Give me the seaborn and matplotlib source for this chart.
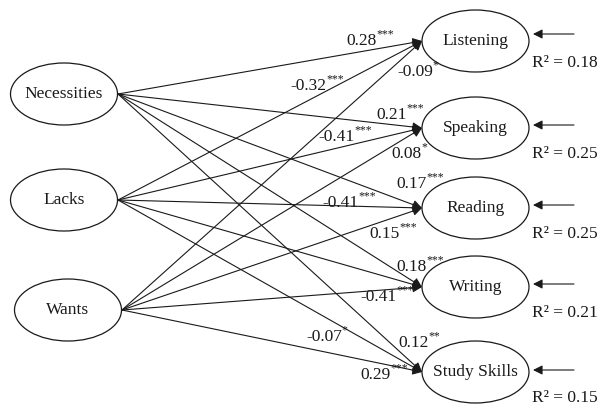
#!/usr/bin/env python3

import sys

import matplotlib
matplotlib.use("Agg")
import matplotlib.pyplot as plt
from matplotlib.patches import Ellipse
import seaborn as sns


FIGSIZE = (6.01, 4.05)
INK = "#1a1a1a"

# data
needs = ["Necessities", "Lacks", "Wants"]
skills = ["Listening", "Speaking", "Reading", "Writing", "Study Skills"]
r_squared = [0.18, 0.25, 0.25, 0.21, 0.15]

# path coefficients: (source, target, value, stars)
path_src = ["Necessities", "Lacks", "Wants",
            "Necessities", "Lacks", "Wants",
            "Necessities", "Lacks", "Wants",
            "Necessities", "Lacks",
            "Necessities", "Lacks", "Wants"]
path_dst = ["Listening", "Listening", "Listening",
            "Speaking", "Speaking", "Speaking",
            "Reading", "Reading", "Reading",
            "Writing", "Writing",
            "Study Skills", "Study Skills", "Study Skills"]
path_coef = ["0.28", "-0.32", "-0.09",
             "0.21", "-0.41", "0.08",
             "0.17", "-0.41", "0.15",
             "0.18", "-0.41",
             "0.12", "-0.07", "0.29"]
path_sig = ["***", "***", "*",
            "***", "***", "*",
            "***", "***", "***",
            "***", "***",
            "**", "*", "***"]

# layout (pixel coordinates of the figure)
LEFT_CENTER = {"Necessities": (64, 94), "Lacks": (64, 200), "Wants": (68, 310)}
RIGHT_CENTER = {"Listening": (475.5, 41), "Speaking": (475.5, 128),
                "Reading": (475.5, 208), "Writing": (475.5, 287),
                "Study Skills": (475.5, 372)}
ELL_W, ELL_H = 107, 62
LABEL_POS = [(346, 41), (290, 86), (397, 72),
             (376, 115), (318, 137), (391, 154),
             (396, 184), (322, 203), (369, 234),
             (396, 267), (360, 297),
             (398, 343), (306, 337), (360, 375)]
ERR_ARROW_Y = [34, 125, 205, 284, 370]
R2_Y = [63, 154, 234, 313, 398]


def eprint(*args, **kwargs):
    print(*args, file=sys.stderr, **kwargs)


def draw_node(ax, name, center):
    ax.add_patch(Ellipse(center, ELL_W, ELL_H, fill=False, ec=INK, lw=0.9))
    ax.text(center[0], center[1], name, ha="center", va="center",
            fontsize=12.5, color=INK)


def plot_path_model(output_png):
    sns.set_style("white")
    plt.rcParams["font.family"] = ["Liberation Serif", "DejaVu Serif"]

    fig = plt.figure(figsize=FIGSIZE, dpi=100)
    ax = fig.add_axes([0, 0, 1, 1])
    ax.set_xlim(0, 601)
    ax.set_ylim(405, 0)
    ax.axis("off")

    for name in needs:
        draw_node(ax, name, LEFT_CENTER[name])
    for name in skills:
        draw_node(ax, name, RIGHT_CENTER[name])

    # every need predicts every skill
    arrow = dict(arrowstyle="-|>", color=INK, lw=0.8, shrinkA=0, shrinkB=0,
                 mutation_scale=14)
    for src in needs:
        sx, sy = LEFT_CENTER[src]
        start = (sx + ELL_W / 2 + 0.5, sy)
        for dst in skills:
            dx, dy = RIGHT_CENTER[dst]
            end = (dx - ELL_W / 2, dy)
            ax.annotate("", xy=end, xytext=start, arrowprops=arrow)

    # coefficient labels
    for (x, y), coef, sig in zip(LABEL_POS, path_coef, path_sig):
        t = ax.text(x, y, coef, ha="left", va="center", fontsize=12.5, color=INK)
        ax.annotate(sig, xy=(1, 0.55), xycoords=t, ha="left", va="bottom",
                    fontsize=8.5, color=INK)

    # error terms and explained variance
    for name, r2, ay, ry in zip(skills, r_squared, ERR_ARROW_Y, R2_Y):
        ax.annotate("", xy=(533, ay), xytext=(574, ay), arrowprops=arrow)
        ax.text(532, ry, f"R\u00b2 = {r2:.2f}", ha="left", va="center",
                fontsize=12.5, color=INK)

    fig.savefig(output_png, dpi=100)
    eprint(f"Figure saved to '{output_png}'.")
    plt.close(fig)


if __name__ == "__main__":
    plot_path_model("out.png")
